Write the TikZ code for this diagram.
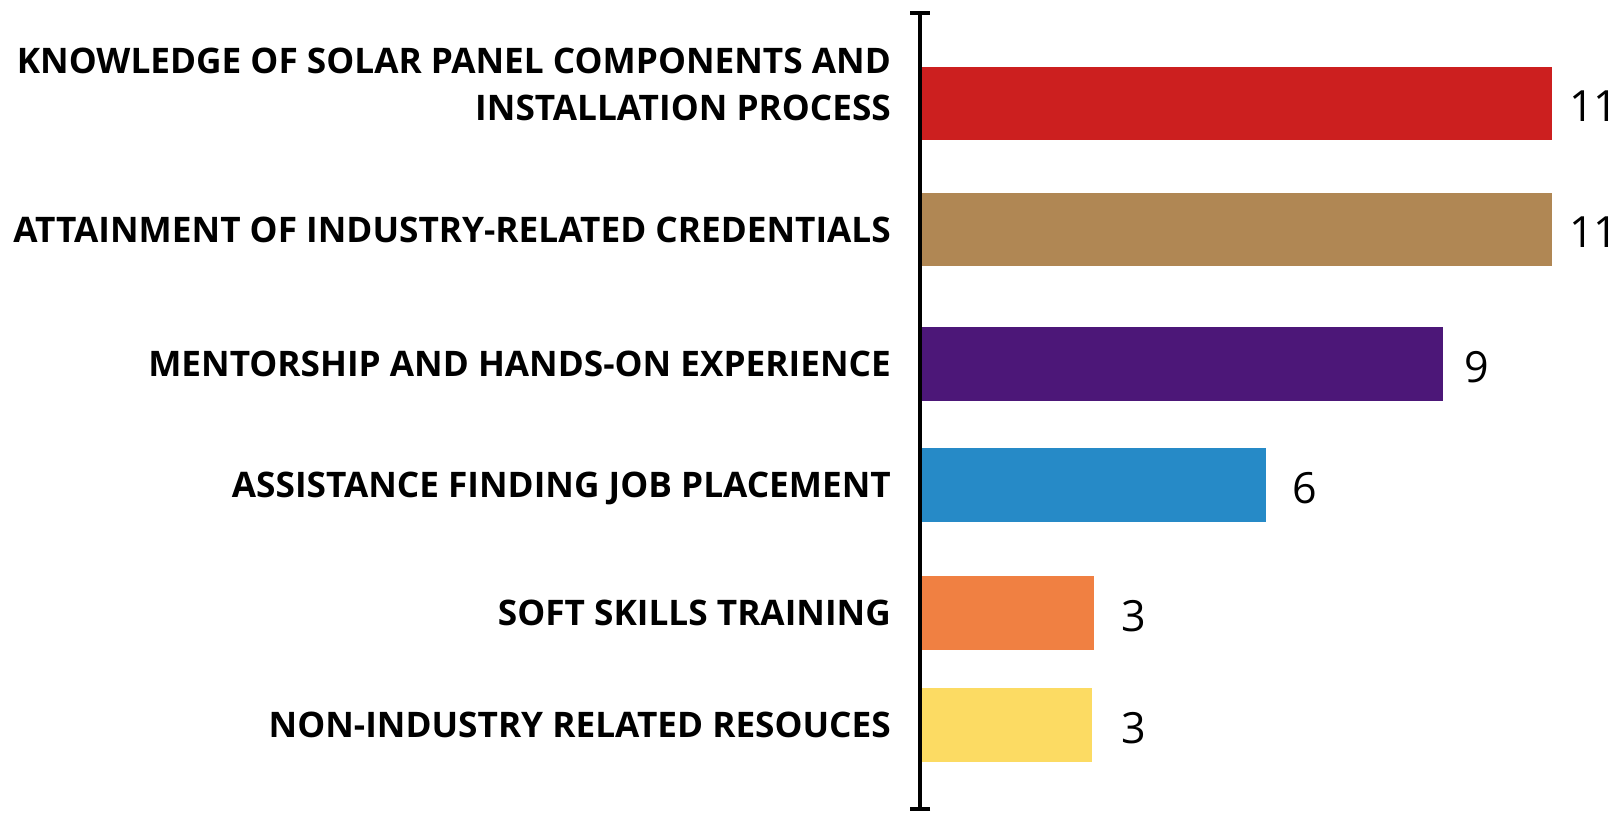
\documentclass[tikz,border=0pt]{standalone}
\usepackage{fontspec}
\setmainfont{Open Sans}
\usetikzlibrary{positioning,arrows.meta}

\begin{document}
\begin{tikzpicture}[x=1pt,y=-1pt]
\tikzset{bar/.style = {shape          = rectangle,
                       inner sep      = 0pt,
                       outer sep      = 0pt,
                       minimum height = 73.5pt,
                       anchor         = west},
         lab/.style = {inner sep      = 0pt,
                       anchor         = east,
                       align          = right,
                       font           = \bfseries\fontsize{35.2}{47}\selectfont},
         val/.style = {inner sep      = 0pt,
                       font           = \fontsize{43}{43}\selectfont}}
\definecolor{col1}{rgb}{0.80,0.12,0.12}
\definecolor{col2}{rgb}{0.69,0.53,0.33}
\definecolor{col3}{rgb}{0.30,0.09,0.47}
\definecolor{col4}{rgb}{0.15,0.54,0.78}
\definecolor{col5}{rgb}{0.94,0.50,0.26}
\definecolor{col6}{rgb}{0.99,0.86,0.39}
\useasboundingbox (0,0) rectangle (1622,813);
\coordinate (axtop) at (920,11);
\coordinate (axbot) at (920,811);
% bars and their values
\foreach \i/\y/\w/\g/\v in {1/103.5/632/17/11, 2/229.5/632/17/11, 3/364/523/21/9,
                            4/485/346/26/6, 5/613/174/27/3, 6/725/172/29/3}
{
  \node[bar, fill=col\i, minimum width=\w pt] (bar\i) at (920,\y) {};
  \node[val, right=\g pt of bar\i, yshift=-3pt] (val\i) {\v};
}
% category names
\node[lab] (lab1) at (891,84) {KNOWLEDGE OF SOLAR PANEL COMPONENTS AND\\INSTALLATION PROCESS};
\foreach \i/\t in {2/ATTAINMENT OF INDUSTRY-RELATED CREDENTIALS, 3/MENTORSHIP AND HANDS-ON EXPERIENCE,
                   4/ASSISTANCE FINDING JOB PLACEMENT, 5/SOFT SKILLS TRAINING,
                   6/NON-INDUSTRY RELATED RESOUCES}
  \node[lab, text height=25pt, text depth=0pt] (lab\i) at (891,0 |- bar\i.west) {\t};
\draw[line width=4.5pt, {Bar[width=20pt]}-{Bar[width=20pt]}] (axtop) -- (axbot);
\end{tikzpicture}
\end{document}
